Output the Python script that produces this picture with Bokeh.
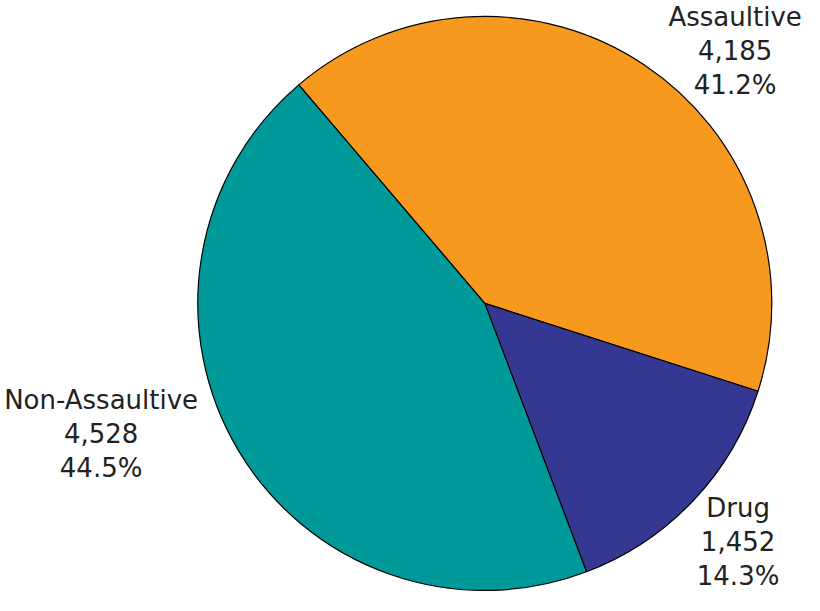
import math
from bokeh.plotting import figure
from bokeh.models import Range1d, ColumnDataSource
from bokeh.core.properties import value
from bokeh.embed import file_html
from bokeh.resources import INLINE

# ---- data ----
categories = ["Assaultive", "Drug", "Non-Assaultive"]
counts = [4185, 1452, 4528]
count_labels = ["4,185", "1,452", "4,528"]
pct_labels = ["41.2%", "14.3%", "44.5%"]
colors = ["#F7991F", "#353893", "#009999"]

# ---- layout ----
W, H = 804, 595
start_deg = 130.4          # angle of first slice boundary
cx, cy = 495.5, 611 - 311.5
radius = 289.5
label_pos = [(748, 611 - 54.5), (751, 611 - 554.5), (108.5, 611 - 444.5)]

total = sum(counts)
starts, ends = [], []
a = math.radians(start_deg)
for c in counts:
    sweep = c / total * 2 * math.pi
    starts.append(a)
    ends.append(a - sweep)
    a -= sweep

src = ColumnDataSource(dict(
    x=[cx] * len(counts), y=[cy] * len(counts),
    start=starts, end=ends, color=colors,
))

p = figure(width=W, height=H, output_backend="svg", toolbar_location=None,
           x_range=Range1d(7, 818), y_range=Range1d(2, 608),
           min_border=0)
p.axis.visible = False
p.grid.visible = False
p.outline_line_color = None
p.background_fill_color = "white"
p.border_fill_color = "white"

p.wedge(x="x", y="y", radius=radius, start_angle="start", end_angle="end",
        direction="clock", fill_color="color", line_color="black",
        line_width=1.2, source=src)

texts = [f"{c}\n{n}\n{pc}" for c, n, pc in zip(categories, count_labels, pct_labels)]
lsrc = ColumnDataSource(dict(x=[q[0] for q in label_pos], y=[q[1] for q in label_pos], t=texts))
p.text(x="x", y="y", text="t", source=lsrc, text_font=value("DejaVu Sans"),
       text_font_size="26px", text_align="center", text_baseline="middle",
       text_line_height=1.14, text_color="#222222")

open("out.html", "w").write(file_html(p, INLINE))
